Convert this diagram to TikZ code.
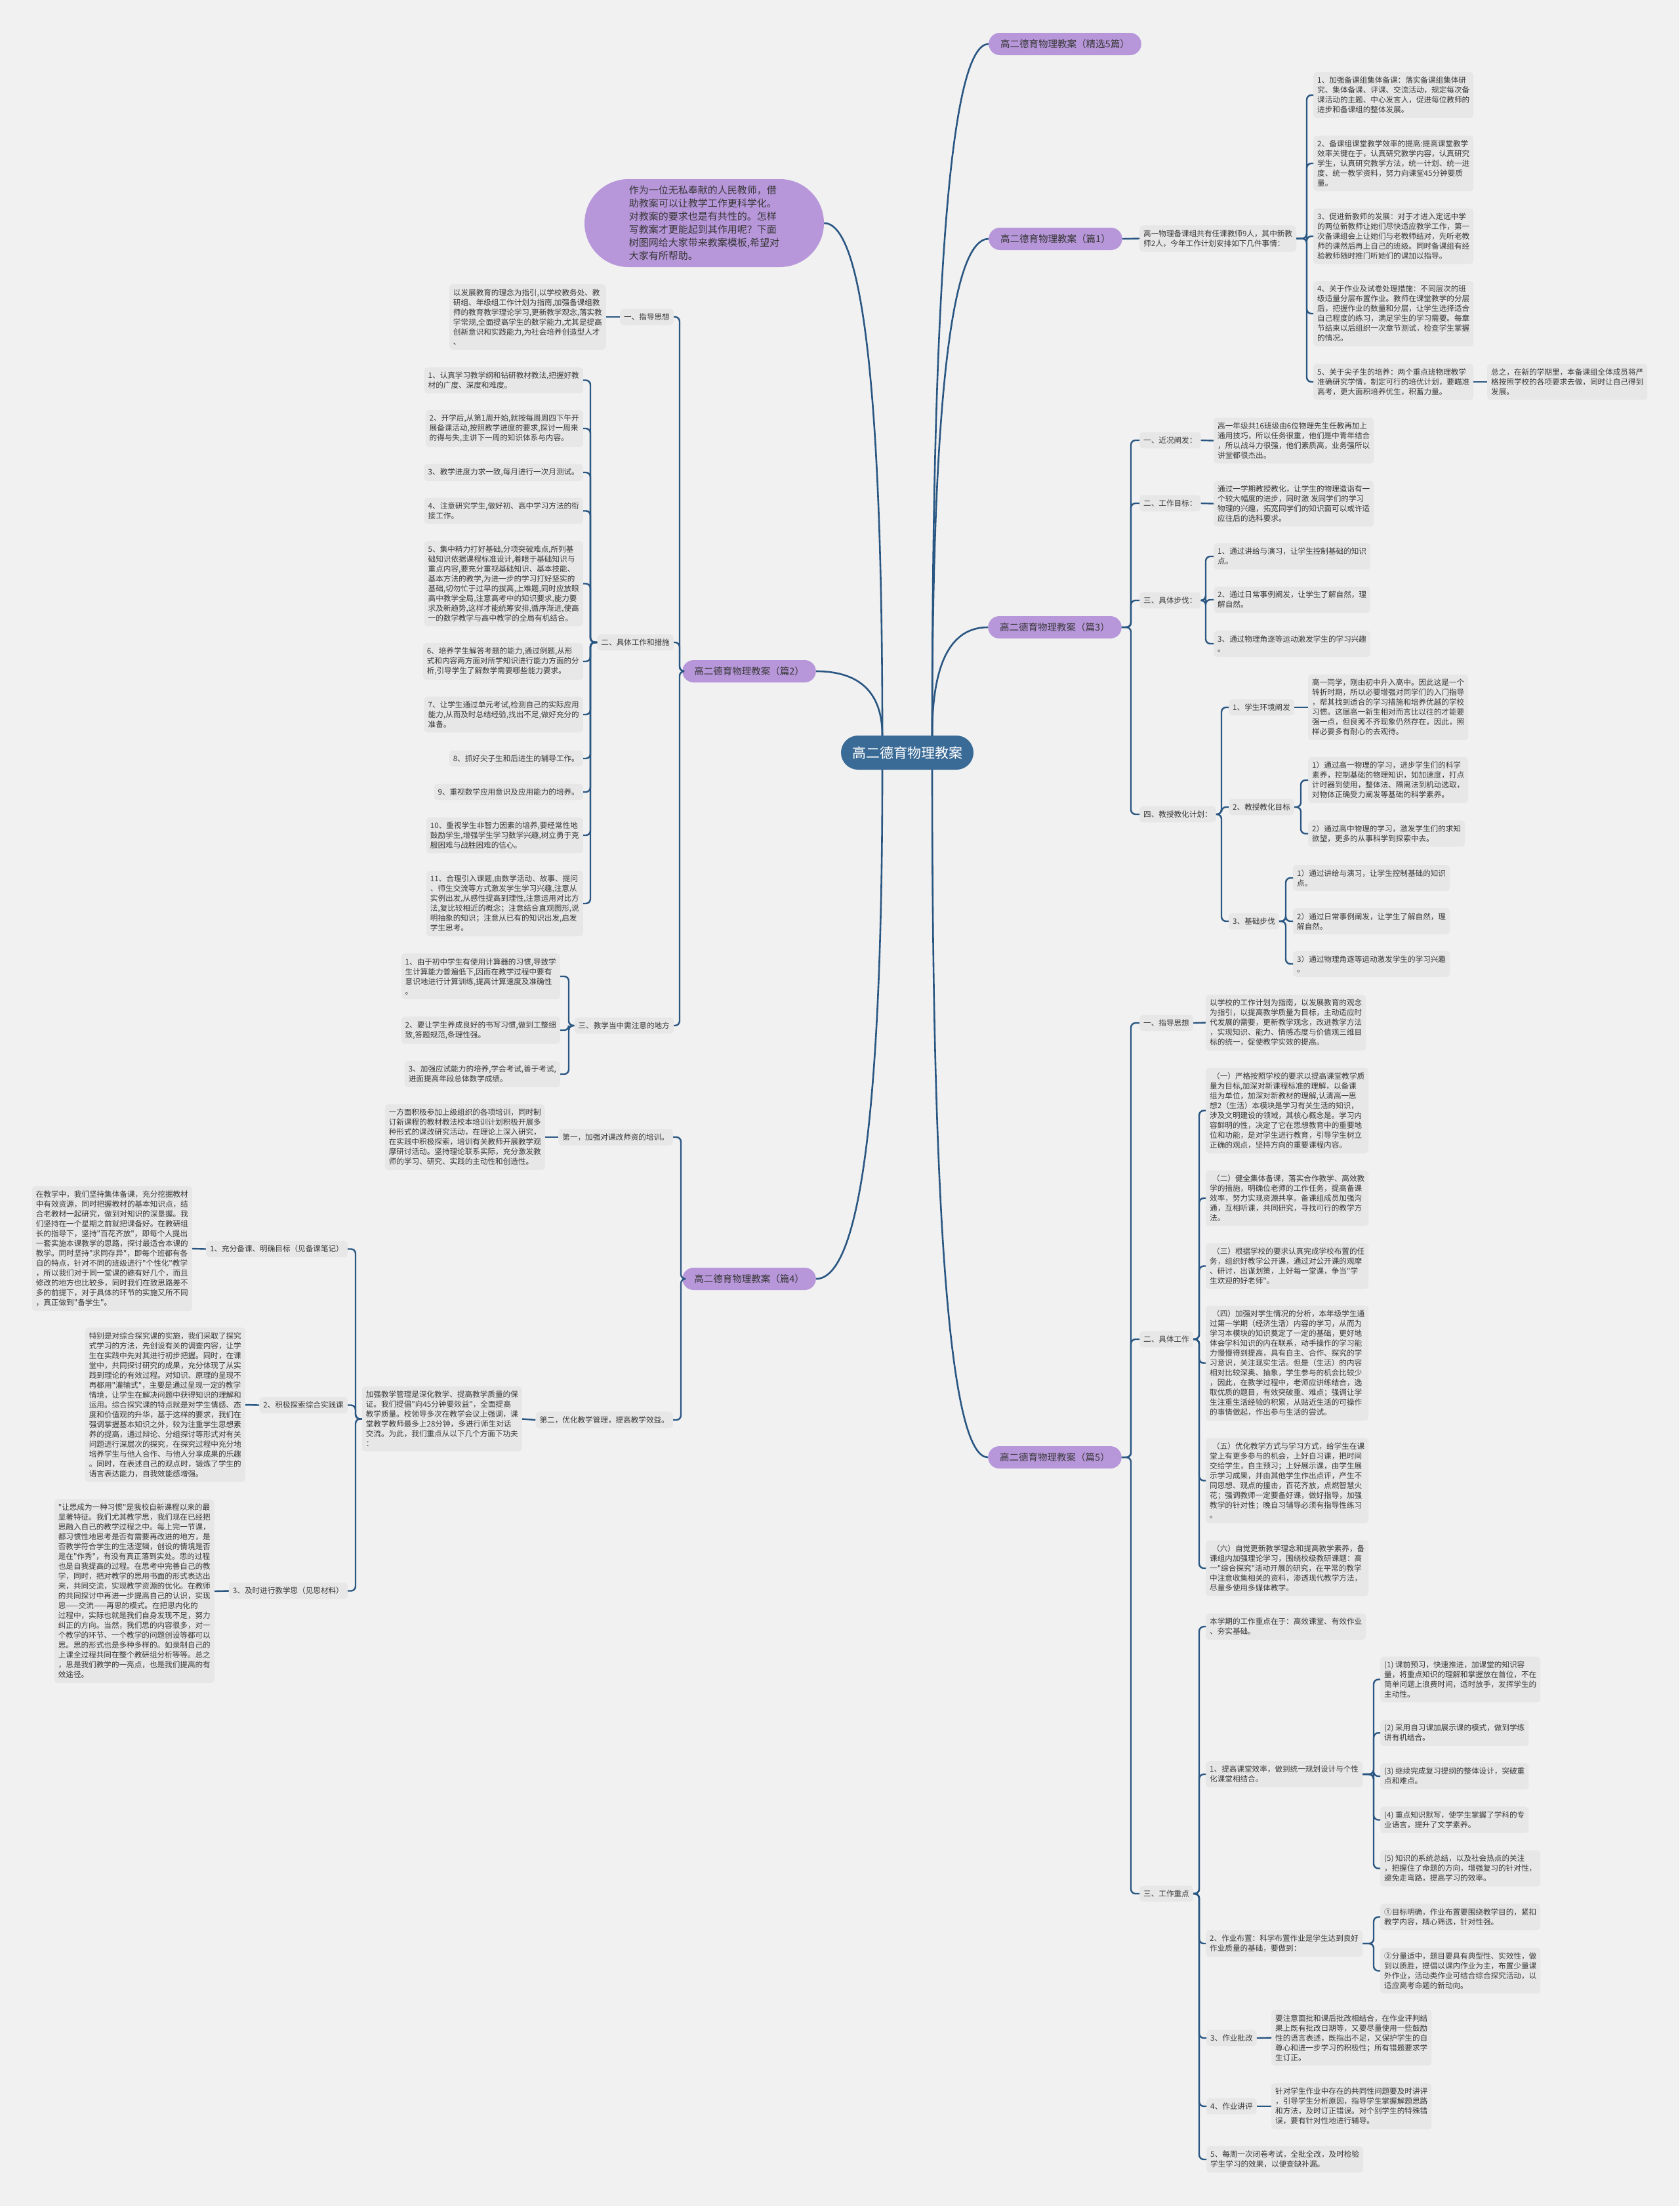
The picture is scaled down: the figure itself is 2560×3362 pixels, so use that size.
\documentclass[tikz,border=0pt]{standalone}
\usepackage{fontspec}
\newfontfamily\cjk{Noto Sans CJK SC}
\usetikzlibrary{calc}
\definecolor{bgc}{RGB}{241,241,241}
\definecolor{boxc}{RGB}{231,231,231}
\definecolor{purp}{RGB}{183,151,218}
\definecolor{rootc}{RGB}{58,107,150}
\definecolor{lc}{RGB}{42,86,130}
\definecolor{txtc}{RGB}{55,55,55}
\newcommand\brR[3]{\coordinate (bxr) at (#2,0);\foreach \cc in {#3}{\draw[conn] (#1.east) -- (#1.east -| bxr) |- (\cc.west);}}
\newcommand\brL[3]{\coordinate (bxl) at (#2,0);\foreach \cc in {#3}{\draw[conn] (#1.west) -- (#1.west -| bxl) |- (\cc.east);}}
\begin{document}
\begin{tikzpicture}[x=1pt,y=-1pt,
  conn/.style={draw=lc,line width=2.4pt,rounded corners=7pt},
  rconn/.style={draw=lc,line width=2.6pt},
  box/.style={fill=boxc,rounded corners=5pt,inner xsep=6pt,inner ysep=7pt,align=left,text=txtc,font=\cjk\fontsize{11.6pt}{15pt}\selectfont},
  mainb/.style={fill=purp,rounded corners=17pt,minimum height=34pt,inner xsep=18pt,inner ysep=0pt,text=txtc,font=\cjk\fontsize{14.5pt}{17pt}\selectfont},
  rootn/.style={fill=rootc,rounded corners=26pt,minimum height=52pt,inner xsep=17pt,inner ysep=0pt,text=white,font=\cjk\fontsize{21pt}{24pt}\selectfont},
  bubble/.style={fill=purp,rounded corners=67pt,minimum width=365pt,minimum height=134pt,align=left,text=txtc,font=\cjk\fontsize{15pt}{20pt}\selectfont}
]
\fill[bgc] (0,0) rectangle (2560,3362);
\useasboundingbox (0,0) rectangle (2560,3362);

% root and main branches
\node[rootn] (root) at (1383,1147) {高二德育物理教案};
\node[bubble] (intro) at (1073.5,340) {作为一位无私奉献的人民教师，借\\助教案可以让教学工作更科学化。\\对教案的要求也是有共性的。怎样\\写教案才更能起到其作用呢？下面\\树图网给大家带来教案模板,希望对\\大家有所帮助。};
\node[mainb,anchor=west] (b0) at (1507,67) {高二德育物理教案（精选5篇）};
\node[mainb,anchor=west] (b1) at (1507,364) {高二德育物理教案（篇1）};
\node[mainb,anchor=west] (b3) at (1506,956) {高二德育物理教案（篇3）};
\node[mainb,anchor=west] (b5) at (1506,2221) {高二德育物理教案（篇5）};
\node[mainb,anchor=east] (b2) at (1244,1023) {高二德育物理教案（篇2）};
\node[mainb,anchor=east] (b4) at (1244,1949) {高二德育物理教案（篇4）};

\coordinate (sru) at (1421,1121);
\coordinate (srd) at (1421,1173);
\coordinate (slu) at (1345,1121);
\coordinate (sld) at (1345,1173);
\draw[rconn] (sru) .. controls (1421,418) and (1450,67) .. (b0.west);
\draw[rconn] (sru) .. controls (1421,616) and (1450,364) .. (b1.west);
\draw[rconn] (sru) .. controls (1421,1011) and (1449,956) .. (b3.west);
\draw[rconn] (srd) .. controls (1421,1872) and (1449,2221) .. (b5.west);
\draw[rconn] (slu) .. controls (1345,600) and (1315,340) .. (intro.east);
\draw[rconn] (slu) .. controls (1345,1056) and (1311,1023) .. (b2.east);
\draw[rconn] (sld) .. controls (1345,1690) and (1311,1949) .. (b4.east);

% ===== 篇1 =====
\node[box,anchor=west] (p1) at (1737,363.5) {高一物理备课组共有任课教师9人，其中新教\\师2人，今年工作计划安排如下几件事情：};
\node[box,anchor=west] (p1a) at (2002,145) {1、加强备课组集体备课：落实备课组集体研\\究、集体备课、评课、交流活动，规定每次备\\课活动的主题、中心发言人，促进每位教师的\\进步和备课组的整体发展。};
\node[box,anchor=west] (p1b) at (2002,249) {2、备课组课堂教学效率的提高:提高课堂教学\\效率关键在于，认真研究教学内容，认真研究\\学生，认真研究教学方法，统一计划、统一进\\度、统一教学资料，努力向课堂45分钟要质\\量。};
\node[box,anchor=west] (p1c) at (2002,360) {3、促进新教师的发展：对于才进入定远中学\\的两位新教师让她们尽快适应教学工作，第一\\次备课组会上让她们与老教师结对，先听老教\\师的课然后再上自己的班级。同时备课组有经\\验教师随时推门听她们的课加以指导。};
\node[box,anchor=west] (p1d) at (2002,478) {4、关于作业及试卷处理措施：不同层次的班\\级适量分层布置作业。教师在课堂教学的分层\\后，把握作业的数量和分层，让学生选择适合\\自己程度的练习，满足学生的学习需要。每章\\节结束以后组织一次章节测试，检查学生掌握\\的情况。};
\node[box,anchor=west] (p1e) at (2002,582) {5、关于尖子生的培养：两个重点班物理教学\\准确研究学情，制定可行的培优计划，要瞄准\\高考，更大面积培养优生，积蓄力量。};
\node[box,anchor=west] (p1f) at (2267,582) {总之，在新的学期里，本备课组全体成员将严\\格按照学校的各项要求去做，同时让自己得到\\发展。};
\draw[conn] (b1.east) -- (p1.west);
\brR{p1}{1992}{p1a,p1b,p1c,p1d,p1e}
\draw[conn] (p1e.east) -- (p1f.west);

% ===== 篇3 =====
\node[box,anchor=west] (t1) at (1737,671) {一、近况阐发：};
\node[box,anchor=west] (t2) at (1737,767) {二、工作目标：};
\node[box,anchor=west] (t3) at (1737,915) {三、具体步伐：};
\node[box,anchor=west] (t4) at (1737,1241) {四、教授教化计划：};
\node[box,anchor=west] (t1a) at (1850,671.5) {高一年级共16班级由6位物理先生任教再加上\\通用技巧，所以任务很重，他们是中青年结合\\，所以战斗力很强，他们素质高，业务强所以\\讲堂都很杰出。};
\node[box,anchor=west] (t2a) at (1850,767.5) {通过一学期教授教化，让学生的物理造诣有一\\个较大幅度的进步，同时激 发同学们的学习\\物理的兴趣，拓宽同学们的知识面可以或许适\\应往后的选科要求。};
\node[box,anchor=west] (t3a) at (1850,848) {1、通过讲给与演习，让学生控制基础的知识\\点。};
\node[box,anchor=west] (t3b) at (1850,914) {2、通过日常事例阐发，让学生了解自然，理\\解自然。};
\node[box,anchor=west] (t3c) at (1850,981) {3、通过物理角逐等运动激发学生的学习兴趣\\。};
\node[box,anchor=west] (t4a) at (1873,1078) {1、学生环境阐发};
\node[box,anchor=west] (t4b) at (1873,1230) {2、教授教化目标};
\node[box,anchor=west] (t4c) at (1873,1404) {3、基础步伐};
\node[box,anchor=west] (t4aa) at (1994,1078) {高一同学，刚由初中升入高中。因此这是一个\\转折时期，所以必要增强对同学们的入门指导\\，帮其找到适合的学习措施和培养优越的学校\\习惯。这届高一新生相对而言比以往的才能要\\强一点，但良莠不齐现象仍然存在，因此，照\\样必要多有耐心的去观待。};
\node[box,anchor=west] (t4ba) at (1994,1189) {1）通过高一物理的学习，进步学生们的科学\\素养，控制基础的物理知识，如加速度，打点\\计时器到使用，整体法、隔离法到机动选取，\\对物体正确受力阐发等基础的科学素养。};
\node[box,anchor=west] (t4bb) at (1994,1270.5) {2）通过高中物理的学习，激发学生们的求知\\欲望，更多的从事科学到探索中去。};
\node[box,anchor=west] (t4ca) at (1971,1338) {1）通过讲给与演习，让学生控制基础的知识\\点。};
\node[box,anchor=west] (t4cb) at (1971,1404) {2）通过日常事例阐发，让学生了解自然，理\\解自然。};
\node[box,anchor=west] (t4cc) at (1971,1469) {3）通过物理角逐等运动激发学生的学习兴趣\\。};
\brR{b3}{1724}{t1,t2,t3,t4}
\draw[conn] (t1.east) -- (t1a.west);
\draw[conn] (t2.east) -- (t2a.west);
\brR{t3}{1838}{t3a,t3b,t3c}
\brR{t4}{1862}{t4a,t4b,t4c}
\draw[conn] (t4a.east) -- (t4aa.west);
\brR{t4b}{1983}{t4ba,t4bb}
\brR{t4c}{1960}{t4ca,t4cb,t4cc}

% ===== 篇5 =====
\node[box,anchor=west] (f1) at (1737,1559) {一、指导思想};
\node[box,anchor=west] (f2) at (1737,2041) {二、具体工作};
\node[box,anchor=west] (f3) at (1737,2886) {三、工作重点};
\node[box,anchor=west] (f1a) at (1838,1558.5) {以学校的工作计划为指南，以发展教育的观念\\为指引，以提高教学质量为目标，主动适应时\\代发展的需要，更新教学观念，改进教学方法\\，实现知识、能力、情感态度与价值观三维目\\标的统一，促使教学实效的提高。};
\node[box,anchor=west] (f2a) at (1838,1692.5) {\hspace*{4pt}（一）严格按照学校的要求以提高课堂教学质\\量为目标,加深对新课程标准的理解，以备课\\组为单位，加深对新教材的理解,认清高一思\\想2（生活）本模块是学习有关生活的知识，\\涉及文明建设的领域，其核心概念是。学习内\\容鲜明的性，决定了它在思想教育中的重要地\\位和功能，是对学生进行教育，引导学生树立\\正确的观点，坚持方向的重要课程内容。};
\node[box,anchor=west] (f2b) at (1838,1826) {\hspace*{4pt}（二）健全集体备课，落实合作教学、高效教\\学的措施，明确位老师的工作任务，提高备课\\效率，努力实现资源共享。备课组成员加强沟\\通，互相听课，共同研究，寻找可行的教学方\\法。};
\node[box,anchor=west] (f2c) at (1838,1929.5) {\hspace*{4pt}（三）根据学校的要求认真完成学校布置的任\\务，组织好教学公开课，通过对公开课的观摩\\、研讨，出谋划策，上好每一堂课，争当"学\\生欢迎的好老师"。};
\node[box,anchor=west] (f2d) at (1838,2077.5) {\hspace*{4pt}（四）加强对学生情况的分析，本年级学生通\\过第一学期（经济生活）内容的学习，从而为\\学习本模块的知识奠定了一定的基础，更好地\\体会学科知识的内在联系，动手操作的学习能\\力慢慢得到提高，具有自主、合作、探究的学\\习意识，关注现实生活。但是（生活）的内容\\相对比较深奥、抽象，学生参与的机会比较少\\，因此，在教学过程中，老师应讲练结合，选\\取优质的题目，有效突破重、难点；强调让学\\生注重生活经验的积累，从贴近生活的可操作\\的事情做起，作出参与生活的尝试。};
\node[box,anchor=west] (f2e) at (1838,2256.5) {\hspace*{4pt}（五）优化教学方式与学习方式，给学生在课\\堂上有更多参与的机会，上好自习课，把时间\\交给学生，自主预习；上好展示课，由学生展\\示学习成果，并由其他学生作出点评，产生不\\同思想、观点的撞击，百花齐放，点燃智慧火\\花；强调教师一定要备好课，做好指导，加强\\教学的针对性；晚自习辅导必须有指导性练习\\。};
\node[box,anchor=west] (f2f) at (1838,2390) {\hspace*{4pt}（六）自觉更新教学理念和提高教学素养，备\\课组内加强理论学习，围绕校级教研课题：高\\一"综合探究"活动开展的研究，在平常的教学\\中注意收集相关的资料，渗透现代教学方法，\\尽量多使用多媒体教学。};
\node[box,anchor=west] (f3a) at (1838,2479) {本学期的工作重点在于：高效课堂、有效作业\\、夯实基础。};
\node[box,anchor=west] (f3b) at (1838,2704) {1、提高课堂效率，做到统一规划设计与个性\\化课堂相结合。};
\node[box,anchor=west] (f3c) at (1838,2962) {2、作业布置：科学布置作业是学生达到良好\\作业质量的基础，要做到：};
\node[box,anchor=west] (f3d) at (1839,3106) {3、作业批改};
\node[box,anchor=west] (f3e) at (1839,3210) {4、作业讲评};
\node[box,anchor=west] (f3f) at (1839,3291) {5、每周一次闭卷考试，全批全改，及时检验\\学生学习的效果，以便查缺补漏。};
\node[box,anchor=west] (f3ba) at (2104,2559.5) {(1) 课前预习，快速推进，加课堂的知识容\\量，将重点知识的理解和掌握放在首位，不在\\简单问题上浪费时间，适时放手，发挥学生的\\主动性。};
\node[box,anchor=west] (f3bb) at (2104,2641) {(2) 采用自习课加展示课的模式，做到学练\\讲有机结合。};
\node[box,anchor=west] (f3bc) at (2104,2707) {(3) 继续完成复习提纲的整体设计，突破重\\点和难点。};
\node[box,anchor=west] (f3bd) at (2104,2773.5) {(4) 重点知识默写，使学生掌握了学科的专\\业语言，提升了文学素养。};
\node[box,anchor=west] (f3be) at (2104,2847.5) {(5) 知识的系统总结，以及社会热点的关注\\，把握住了命题的方向，增强复习的针对性，\\避免走弯路，提高学习的效率。};
\node[box,anchor=west] (f3ca) at (2104,2921.5) {①目标明确，作业布置要围绕教学目的，紧扣\\教学内容，精心筛选，针对性强。};
\node[box,anchor=west] (f3cb) at (2104,3003.5) {②分量适中，题目要具有典型性、实效性，做\\到以质胜，提倡以课内作业为主，布置少量课\\外作业，活动类作业可结合综合探究活动，以\\适应高考命题的新动向。};
\node[box,anchor=west] (f3da) at (1938,3105.5) {要注意面批和课后批改相结合，在作业评判结\\果上既有批改日期等，又要尽量使用一些鼓励\\性的语言表述，既指出不足，又保护学生的自\\尊心和进一步学习的积极性；所有错题要求学\\生订正。};
\node[box,anchor=west] (f3ea) at (1938,3210) {针对学生作业中存在的共同性问题要及时讲评\\，引导学生分析原因，指导学生掌握解题思路\\和方法，及时订正错误。对个别学生的特殊错\\误，要有针对性地进行辅导。};
\brR{b5}{1724}{f1,f2,f3}
\draw[conn] (f1.east) -- (f1a.west);
\brR{f2}{1828}{f2a,f2b,f2c,f2d,f2e,f2f}
\brR{f3}{1828}{f3a,f3b,f3c,f3d,f3e,f3f}
\brR{f3b}{2094}{f3ba,f3bb,f3bc,f3bd,f3be}
\brR{f3c}{2094}{f3ca,f3cb}
\draw[conn] (f3d.east) -- (f3da.west);
\draw[conn] (f3e.east) -- (f3ea.west);

% ===== 篇2 =====
\node[box,anchor=east] (e1) at (1027,483) {一、指导思想};
\node[box,anchor=east] (e2) at (1027,979) {二、具体工作和措施};
\node[box,anchor=east] (e3) at (1027,1563) {三、教学当中需注意的地方};
\node[box,anchor=east] (e1a) at (924,483) {以发展教育的理念为指引,以学校教务处、教\\研组、年级组工作计划为指南,加强备课组教\\师的教育教学理论学习,更新教学观念,落实教\\学常规,全面提高学生的数学能力,尤其是提高\\创新意识和实践能力,为社会培养创造型人才\\、};
\node[box,anchor=east] (e2a) at (889,579.5) {1、认真学习教学纲和钻研教材教法,把握好教\\材的广度、深度和难度。};
\node[box,anchor=east] (e2b) at (889,653) {2、开学后,从第1周开始,就按每周周四下午开\\展备课活动,按照教学进度的要求,探讨一周来\\的得与失,主讲下一周的知识体系与内容。};
\node[box,anchor=east] (e2c) at (889,720) {3、教学进度力求一致,每月进行一次月测试。};
\node[box,anchor=east] (e2d) at (889,778.5) {4、注意研究学生,做好初、高中学习方法的衔\\接工作。};
\node[box,anchor=east] (e2e) at (889,889.5) {5、集中精力打好基础,分项突破难点,所列基\\础知识依据课程标准设计,着眼于基础知识与\\重点内容,要充分重视基础知识、基本技能、\\基本方法的教学,为进一步的学习打好坚实的\\基础,切勿忙于过早的拔高,上难题,同时应放眼\\高中教学全局,注意高考中的知识要求,能力要\\求及新趋势,这样才能统筹安排,循序渐进,使高\\一的数学教学与高中教学的全局有机结合。};
\node[box,anchor=east] (e2f) at (889,1008) {6、培养学生解答考题的能力,通过例题,从形\\式和内容两方面对所学知识进行能力方面的分\\析,引导学生了解数学需要哪些能力要求。};
\node[box,anchor=east] (e2g) at (889,1089) {7、让学生通过单元考试,检测自己的实际应用\\能力,从而及时总结经验,找出不足,做好充分的\\准备。};
\node[box,anchor=east] (e2h) at (889,1156) {8、抓好尖子生和后进生的辅导工作。};
\node[box,anchor=east] (e2i) at (889,1207) {9、重视数学应用意识及应用能力的培养。};
\node[box,anchor=east] (e2j) at (889,1273) {10、重视学生非智力因素的培养,要经常性地\\鼓励学生,增强学生学习数学兴趣,树立勇于克\\服困难与战胜困难的信心。};
\node[box,anchor=east] (e2k) at (889,1377) {11、合理引入课题,由数学活动、故事、提问\\、师生交流等方式激发学生学习兴趣,注意从\\实例出发,从感性提高到理性,注意运用对比方\\法,复比较相近的概念；注意结合直观图形,说\\明抽象的知识；注意从已有的知识出发,启发\\学生思考。};
\node[box,anchor=east] (e3a) at (854,1488) {1、由于初中学生有使用计算器的习惯,导致学\\生计算能力普遍低下,因而在教学过程中要有\\意识地进行计算训练,提高计算速度及准确性\\。};
\node[box,anchor=east] (e3b) at (854,1570) {2、要让学生养成良好的书写习惯,做到工整细\\致,答题规范,条理性强。};
\node[box,anchor=east] (e3c) at (854,1637) {3、加强应试能力的培养,学会考试,善于考试,\\进面提高年段总体数学成绩。};
\brL{b2}{1036}{e1,e2,e3}
\draw[conn] (e1.west) -- (e1a.east);
\brL{e2}{900}{e2a,e2b,e2c,e2d,e2e,e2f,e2g,e2h,e2i,e2j,e2k}
\brL{e3}{867}{e3a,e3b,e3c}

% ===== 篇4 =====
\node[box,anchor=east] (g1) at (1026,1733) {第一，加强对课改师资的培训。};
\node[box,anchor=east] (g2) at (1026,2164) {第二，优化教学管理，提高教学效益。};
\node[box,anchor=east] (g1a) at (831,1733) {一方面积极参加上级组织的各项培训，同时制\\订新课程的教材教法校本培训计划积极开展多\\种形式的课改研究活动，在理论上深入研究，\\在实践中积极探索，培训有关教师开展教学观\\摩研讨活动。坚持理论联系实际，充分激发教\\师的学习、研究、实践的主动性和创造性。};
\node[box,anchor=east] (g2a) at (796,2162.5) {加强教学管理是深化教学、提高教学质量的保\\证。我们提倡"向45分钟要效益"，全面提高\\教学质量。校领导多次在教学会议上强调，课\\堂教学教师最多上28分钟，多进行师生对话\\交流。为此，我们重点从以下几个方面下功夫\\：};
\node[box,anchor=east] (g3) at (530,1903.5) {1、充分备课、明确目标（见备课笔记）};
\node[box,anchor=east] (g4) at (530,2141.5) {2、积极探索综合实践课};
\node[box,anchor=east] (g5) at (530,2424.5) {3、及时进行教学思（见思材料）};
\node[box,anchor=east] (g3a) at (293,1903) {在教学中，我们坚持集体备课，充分挖掘教材\\中有效资源，同时把握教材的基本知识点，结\\合老教材一起研究，做到对知识的深垦握。我\\们坚持在一个星期之前就把课备好。在教研组\\长的指导下，坚持"百花齐放"，即每个人提出\\一套实施本课教学的思路，探讨最适合本课的\\教学。同时坚持"求同存异"，即每个班都有各\\自的特点，针对不同的班级进行"个性化"教学\\，所以我们对于同一堂课的礁有好几个，而且\\修改的地方也比较多，同时我们在致思路差不\\多的前提下，对于具体的环节的实施又所不同\\，真正做到"备学生"。};
\node[box,anchor=east] (g4a) at (374,2141) {特别是对综合探究课的实施，我们采取了探究\\式学习的方法，先创设有关的调查内容，让学\\生在实践中先对其进行初步把握。同时，在课\\堂中，共同探讨研究的成果，充分体现了从实\\践到理论的有效过程。对知识、原理的呈现不\\再都用"灌输式"，主要是通过呈现一定的教学\\情境，让学生在解决问题中获得知识的理解和\\运用。综合探究课的特点就是对学生情感、态\\度和价值观的升华，基于这样的要求，我们在\\强调掌握基本知识之外，较为注重学生思想素\\养的提高，通过辩论、分组探讨等形式对有关\\问题进行深层次的探究，在探究过程中充分地\\培养学生与他人合作、与他人分享成果的乐趣\\。同时，在表述自己的观点时，锻炼了学生的\\语言表达能力，自我效能感增强。};
\node[box,anchor=east] (g5a) at (327,2425) {"让思成为一种习惯"是我校自新课程以来的最\\显著特征。我们尤其教学思，我们现在已经把\\思融入自己的教学过程之中。每上完一节课，\\都习惯性地思考是否有需要再改进的地方，是\\否教学符合学生的生活逻辑，创设的情境是否\\是在"作秀"，有没有真正落到实处。思的过程\\也是自我提高的过程。在思考中完善自己的教\\学，同时，把对教学的思用书面的形式表达出\\来，共同交流，实现教学资源的优化。在教师\\的共同探讨中再进一步提高自己的认识，实现\\思——交流——再思的模式。在把思内化的\\过程中，实际也就是我们自身发现不足，努力\\纠正的方向。当然，我们思的内容很多，对一\\个教学的环节、一个教学的问题创设等都可以\\思。思的形式也是多种多样的。如录制自己的\\上课全过程共同在整个教研组分析等等。总之\\，思是我们教学的一亮点，也是我们提高的有\\效途径。};
\brL{b4}{1038}{g1,g2}
\draw[conn] (g1.west) -- (g1a.east);
\draw[conn] (g2.west) -- (g2a.east);
\brL{g2a}{542}{g3,g4,g5}
\draw[conn] (g3.west) -- (g3a.east);
\draw[conn] (g4.west) -- (g4a.east);
\draw[conn] (g5.west) -- (g5a.east);
\end{tikzpicture}
\end{document}
